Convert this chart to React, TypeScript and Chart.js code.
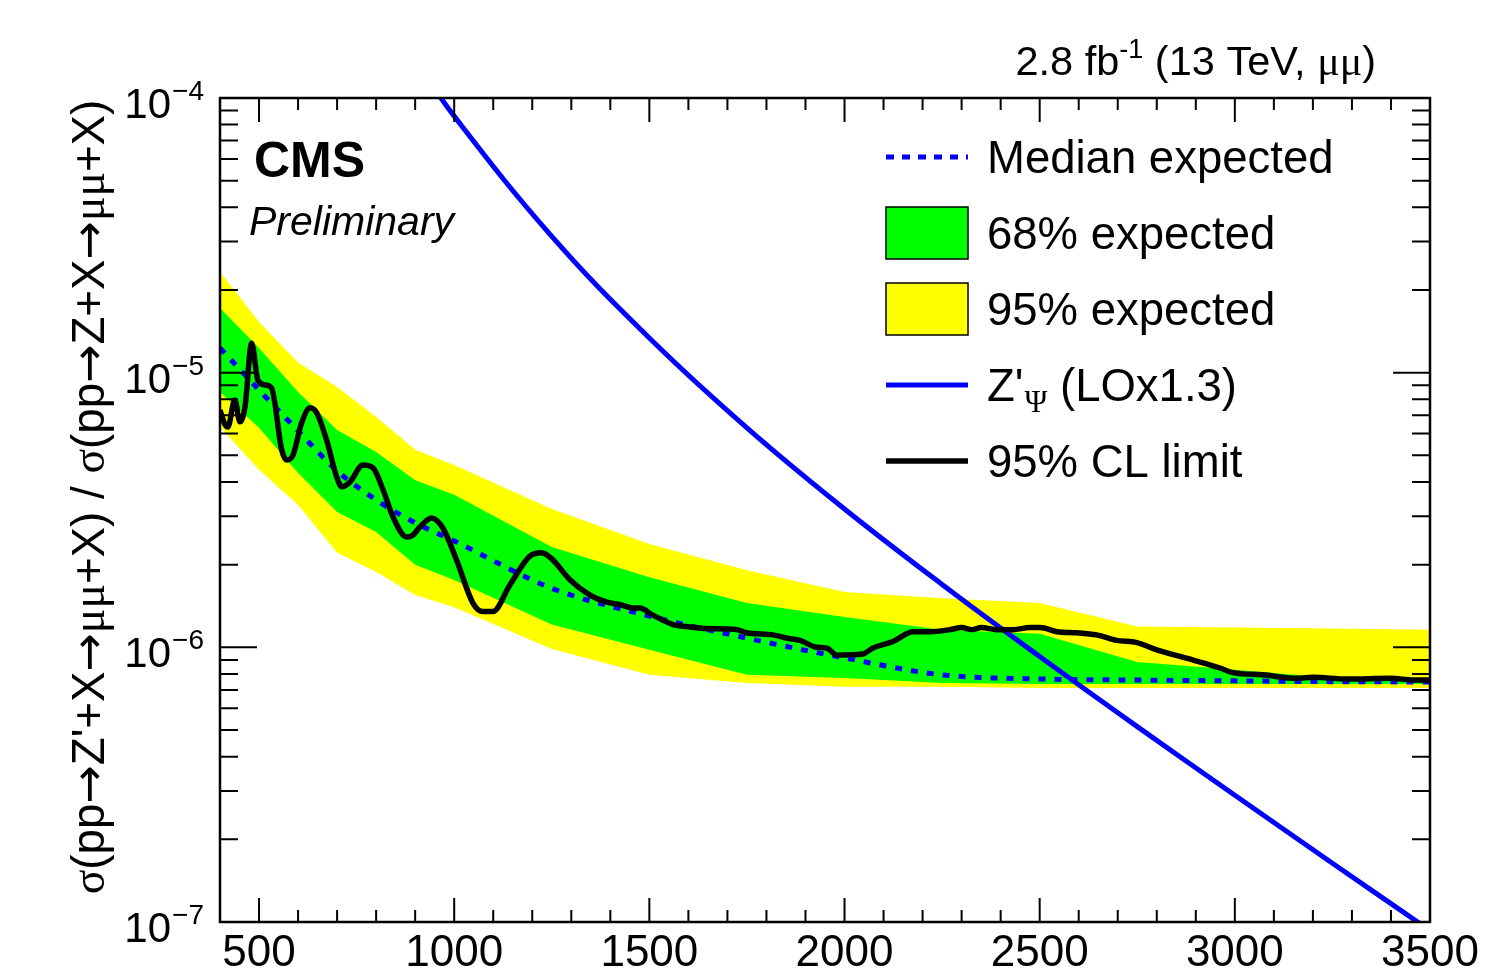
import { useEffect, useRef } from 'react';
import { Chart, registerables } from 'chart.js';

Chart.register(...registerables);

// Dimuon mass grid (GeV) of the expected-limit bands
const bandMass = [400, 500, 600, 700, 800, 900, 1000, 1250, 1500, 1750, 2000, 2250, 2500, 2750, 3000, 3250, 3500];
const expMedian = [1.23e-5, 8.65e-6, 6.14e-6, 4.39e-6, 3.44e-6, 2.84e-6, 2.44e-6, 1.64e-6, 1.30e-6, 1.08e-6, 9.15e-7, 7.94e-7, 7.67e-7, 7.6e-7, 7.55e-7, 7.5e-7, 7.48e-7];
const exp68Up = [1.72e-5, 1.23e-5, 8.51e-6, 6.18e-6, 5.14e-6, 4.06e-6, 3.59e-6, 2.32e-6, 1.80e-6, 1.45e-6, 1.29e-6, 1.16e-6, 1.12e-6, 8.85e-7, 8.28e-7, 7.74e-7, 7.55e-7];
const exp68Down = [8.51e-6, 6.30e-6, 4.31e-6, 3.11e-6, 2.63e-6, 2.00e-6, 1.76e-6, 1.21e-6, 9.79e-7, 7.94e-7, 7.74e-7, 7.41e-7, 7.36e-7, 7.36e-7, 7.36e-7, 7.36e-7, 7.36e-7];
const exp95Up = [2.33e-5, 1.53e-5, 1.09e-5, 8.87e-6, 6.90e-6, 5.24e-6, 4.61e-6, 3.19e-6, 2.38e-6, 1.91e-6, 1.59e-6, 1.51e-6, 1.45e-6, 1.19e-6, 1.18e-6, 1.17e-6, 1.16e-6];
const exp95Down = [6.34e-6, 4.43e-6, 3.30e-6, 2.21e-6, 1.88e-6, 1.55e-6, 1.40e-6, 9.87e-7, 7.94e-7, 7.41e-7, 7.19e-7, 7.19e-7, 7.11e-7, 7.11e-7, 7.11e-7, 7.11e-7, 7.11e-7];

// Observed 95% CL limit
const obsMass = [400, 413, 420, 438, 451, 464, 481, 497, 515, 532, 558, 571, 587, 609, 631, 648, 673, 699, 712, 733, 766, 792, 818, 843, 878, 894, 912, 942, 971, 1006, 1048, 1074, 1099, 1143, 1194, 1224, 1250, 1297, 1348, 1391, 1425, 1458, 1476, 1509, 1561, 1596, 1647, 1724, 1749, 1817, 1852, 1886, 1929, 1954, 1980, 2047, 2073, 2124, 2176, 2219, 2270, 2300, 2326, 2351, 2390, 2432, 2475, 2501, 2544, 2595, 2646, 2697, 2749, 2800, 2893, 2962, 2995, 3072, 3159, 3200, 3287, 3398, 3457, 3500];
const obsLimit = [7.31e-6, 6.46e-6, 6.34e-6, 7.96e-6, 6.62e-6, 7.50e-6, 1.28e-5, 9.40e-6, 9.02e-6, 8.80e-6, 5.24e-6, 4.81e-6, 5.01e-6, 6.56e-6, 7.45e-6, 7.13e-6, 5.69e-6, 4.17e-6, 3.84e-6, 4.00e-6, 4.61e-6, 4.50e-6, 3.74e-6, 2.99e-6, 2.52e-6, 2.56e-6, 2.74e-6, 2.96e-6, 2.72e-6, 2.08e-6, 1.45e-6, 1.35e-6, 1.35e-6, 1.69e-6, 2.15e-6, 2.21e-6, 2.10e-6, 1.76e-6, 1.55e-6, 1.46e-6, 1.43e-6, 1.39e-6, 1.39e-6, 1.31e-6, 1.21e-6, 1.19e-6, 1.17e-6, 1.16e-6, 1.13e-6, 1.11e-6, 1.08e-6, 1.06e-6, 1.00e-6, 9.95e-7, 9.38e-7, 9.46e-7, 9.95e-7, 1.05e-6, 1.14e-6, 1.14e-6, 1.16e-6, 1.18e-6, 1.16e-6, 1.18e-6, 1.16e-6, 1.16e-6, 1.18e-6, 1.18e-6, 1.14e-6, 1.13e-6, 1.11e-6, 1.06e-6, 1.04e-6, 9.79e-7, 8.99e-7, 8.41e-7, 8.09e-7, 7.94e-7, 7.71e-7, 7.78e-7, 7.67e-7, 7.71e-7, 7.61e-7, 7.61e-7];

// Z'_psi prediction (LO x 1.3)
const zpsiMass = [900, 1000, 1250, 1500, 1750, 2000, 2250, 2500, 2750, 3000, 3250, 3500];
const zpsiRatio = [1.377e-4, 8.59e-5, 3.137e-5, 1.338e-5, 6.30e-6, 3.19e-6, 1.694e-6, 9.26e-7, 5.145e-7, 2.894e-7, 1.637e-7, 9.31e-8];

// Axis ticks
const xMin = 400;
const xMax = 3500;
const xMajorTicks = [500, 1000, 1500, 2000, 2500, 3000, 3500];
const xMinorStep = 100;
const yExponents = [-7, -6, -5, -4];

const legendLabels = ['Median expected', '68% expected', '95% expected', "Z'", '95% CL limit'];

const SANS = '"Liberation Sans", Arial, Helvetica, sans-serif';
const SERIF = '"Liberation Serif", "Times New Roman", serif';
const ARROW = '"DejaVu Sans", sans-serif';

const pts = (xs: number[], ys: number[]) => xs.map((x, i) => ({ x, y: ys[i] }));

const rootStyle = {
  id: 'rootStyle',
  afterDraw(chart: any) {
    const { ctx, chartArea: a, scales } = chart;
    const xs = scales.x;
    const ys = scales.y;
    ctx.save();

    // frame
    ctx.strokeStyle = '#000';
    ctx.lineWidth = 2.5;
    ctx.strokeRect(a.left, a.top, a.right - a.left, a.bottom - a.top);

    // x ticks (bottom and top, inside the frame)
    ctx.lineWidth = 2;
    ctx.beginPath();
    for (let m = xMin; m <= xMax; m += xMinorStep) {
      const px = xs.getPixelForValue(m);
      const len = xMajorTicks.includes(m) ? 24 : 12;
      ctx.moveTo(px, a.bottom);
      ctx.lineTo(px, a.bottom - len);
      ctx.moveTo(px, a.top);
      ctx.lineTo(px, a.top + len);
    }
    // y ticks (left and right, inside the frame)
    for (let i = 0; i < yExponents.length; i++) {
      const e = yExponents[i];
      const py = ys.getPixelForValue(Math.pow(10, e));
      ctx.moveTo(a.left, py);
      ctx.lineTo(a.left + 37, py);
      ctx.moveTo(a.right, py);
      ctx.lineTo(a.right - 37, py);
      if (i < yExponents.length - 1) {
        for (let k = 2; k <= 9; k++) {
          const pm = ys.getPixelForValue(k * Math.pow(10, e));
          ctx.moveTo(a.left, pm);
          ctx.lineTo(a.left + 18, pm);
          ctx.moveTo(a.right, pm);
          ctx.lineTo(a.right - 18, pm);
        }
      }
    }
    ctx.stroke();

    ctx.fillStyle = '#000';
    // x tick labels
    ctx.font = `44px ${SANS}`;
    ctx.textAlign = 'center';
    ctx.textBaseline = 'alphabetic';
    for (const m of xMajorTicks) {
      ctx.fillText(String(m), xs.getPixelForValue(m), 966);
    }

    // y tick labels: 10 with superscript exponent
    for (const e of yExponents) {
      const py = ys.getPixelForValue(Math.pow(10, e));
      const sup = '\u2212' + Math.abs(e);
      ctx.font = `28px ${SANS}`;
      const supW = ctx.measureText(sup).width;
      const right = a.left - 16;
      ctx.textAlign = 'left';
      ctx.fillText(sup, right - supW, py + 2);
      ctx.font = `42px ${SANS}`;
      ctx.textAlign = 'right';
      ctx.fillText('10', right - supW - 1, py + 20);
    }

    // y axis title
    const titleParts: [string, string][] = [
      ['\u03c3', SERIF], ['(pp', SANS], ['\u2192', ARROW], ["Z'+X", SANS], ['\u2192', ARROW], ['\u03bc\u03bc', SERIF], ['+X) / ', SANS],
      ['\u03c3', SERIF], ['(pp', SANS], ['\u2192', ARROW], ['Z+X', SANS], ['\u2192', ARROW], ['\u03bc\u03bc', SERIF], ['+X)', SANS],
    ];
    let tfs = 40;
    const measureTitle = (fs: number) => titleParts.reduce((w, [t, f]) => {
      ctx.font = `${fs}px ${f}`;
      return w + ctx.measureText(t).width;
    }, 0);
    tfs = tfs * 795 / measureTitle(tfs);
    const tw = measureTitle(tfs);
    ctx.save();
    ctx.translate(104, 497);
    ctx.rotate(-Math.PI / 2);
    ctx.textAlign = 'left';
    let tx = -tw / 2;
    for (const [t, f] of titleParts) {
      ctx.font = `${tfs}px ${f}`;
      ctx.fillText(t, tx, 0);
      tx += ctx.measureText(t).width;
    }
    ctx.restore();

    // luminosity label
    ctx.textAlign = 'left';
    const lumiParts: [string, string, number][] = [
      ['2.8 fb', `41.5px ${SANS}`, 0], ['-1', `27px ${SANS}`, -17], [' (13 TeV, ', `41.5px ${SANS}`, 0],
      ['\u03bc\u03bc', `42px ${SERIF}`, 0], [')', `41.5px ${SANS}`, 0],
    ];
    let lw = 0;
    for (const [t, f] of lumiParts) { ctx.font = f; lw += ctx.measureText(t).width; }
    let lx = 1376 - lw;
    for (const [t, f, dy] of lumiParts) {
      ctx.font = f;
      ctx.fillText(t, lx, 75 + dy);
      lx += ctx.measureText(t).width;
    }

    // CMS Preliminary
    ctx.font = `bold 50px ${SANS}`;
    ctx.fillText('CMS', 254, 177);
    ctx.font = `italic 41px ${SANS}`;
    ctx.fillText('Preliminary', 249, 235);

    // legend
    const rows = [157, 233, 309, 385, 461];
    const sx0 = 886;
    const sx1 = 968;
    ctx.lineCap = 'butt';
    // median expected
    ctx.strokeStyle = '#0000ff';
    ctx.lineWidth = 5;
    ctx.setLineDash([8, 8]);
    ctx.beginPath();
    ctx.moveTo(sx0, rows[0]);
    ctx.lineTo(sx1, rows[0]);
    ctx.stroke();
    ctx.setLineDash([]);
    // bands
    const boxes = ['#00ff00', '#ffff00'];
    boxes.forEach((c, i) => {
      const cy = rows[i + 1];
      ctx.fillStyle = c;
      ctx.fillRect(sx0, cy - 26, sx1 - sx0, 52);
      ctx.strokeStyle = '#000';
      ctx.lineWidth = 1.5;
      ctx.strokeRect(sx0, cy - 26, sx1 - sx0, 52);
    });
    // theory
    ctx.strokeStyle = '#0000ff';
    ctx.lineWidth = 5;
    ctx.beginPath();
    ctx.moveTo(sx0, rows[3]);
    ctx.lineTo(sx1, rows[3]);
    ctx.stroke();
    // observed
    ctx.strokeStyle = '#000';
    ctx.lineWidth = 5.5;
    ctx.beginPath();
    ctx.moveTo(sx0, rows[4]);
    ctx.lineTo(sx1, rows[4]);
    ctx.stroke();

    ctx.fillStyle = '#000';
    const lfs = 45.5;
    legendLabels.forEach((t, i) => {
      const base = rows[i] + 16;
      ctx.font = `${lfs}px ${SANS}`;
      ctx.fillText(t, 987, base);
      if (i === 3) {
        let x = 987 + ctx.measureText(t).width + 1;
        ctx.font = `31px ${SERIF}`;
        ctx.fillText('\u03a8', x, base + 11);
        x += ctx.measureText('\u03a8').width;
        ctx.font = `${lfs}px ${SANS}`;
        ctx.fillText(' (LOx1.3)', x, base);
      }
    });

    ctx.restore();
  },
};

export default function App() {
  const ref = useRef<HTMLCanvasElement>(null);

  useEffect(() => {
    document.body.style.margin = '0';
    const canvas = ref.current;
    if (!canvas) return;
    const hidden = { borderColor: 'rgba(0,0,0,0)', borderWidth: 0, pointRadius: 0 };
    const chart = new Chart(canvas, {
      type: 'line',
      data: {
        datasets: [
          { label: '95% up', data: pts(bandMass, exp95Up), fill: 1, backgroundColor: '#ffff00', order: 5, ...hidden },
          { label: '95% down', data: pts(bandMass, exp95Down), fill: false, order: 5, ...hidden },
          { label: '68% up', data: pts(bandMass, exp68Up), fill: 3, backgroundColor: '#00ff00', order: 4, ...hidden },
          { label: '68% down', data: pts(bandMass, exp68Down), fill: false, order: 4, ...hidden },
          {
            label: 'Median expected', data: pts(bandMass, expMedian), borderColor: '#0000ff', borderWidth: 5,
            borderDash: [7, 9], pointRadius: 0, fill: false, order: 2, cubicInterpolationMode: 'monotone',
          },
          {
            label: "Z'psi", data: pts(zpsiMass, zpsiRatio), borderColor: '#0000ff', borderWidth: 5,
            pointRadius: 0, fill: false, order: 1, tension: 0.4,
          },
          {
            label: '95% CL limit', data: pts(obsMass, obsLimit), borderColor: '#000000', borderWidth: 5.5,
            pointRadius: 0, fill: false, order: 0, cubicInterpolationMode: 'monotone', borderJoinStyle: 'round',
          },
        ],
      },
      options: {
        responsive: false,
        animation: false,
        devicePixelRatio: 1,
        events: [],
        layout: { padding: { left: 220, top: 98, right: 78, bottom: 47 } },
        scales: {
          x: { type: 'linear', min: xMin, max: xMax, display: false },
          y: { type: 'logarithmic', min: 1e-7, max: 1e-4, display: false },
        },
        plugins: { legend: { display: false }, tooltip: { enabled: false } },
      },
      plugins: [rootStyle],
    } as any);
    return () => chart.destroy();
  }, []);

  return <canvas ref={ref} width={1508} height={969} style={{ display: 'block' }} />;
}
